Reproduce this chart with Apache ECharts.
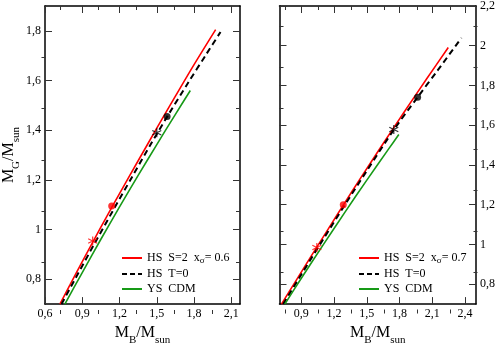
<!DOCTYPE html>
<html>
<head>
<meta charset="utf-8">
<title>M_G vs M_B</title>
<script src="https://cdn.jsdelivr.net/npm/echarts@6/dist/echarts.min.js"></script>
<style>
  html, body { margin: 0; padding: 0; background: #fff; }
  #chart { width: 498px; height: 351px; }
</style>
</head>
<body>
<div id="chart"></div>
<script>
// ---- left panel (x_sigma = 0.6) ----
const leftHsS2 = [[0.72, 0.700], [0.80, 0.776], [0.90, 0.871], [1.00, 0.964], [1.10, 1.055], [1.20, 1.145],
  [1.35, 1.277], [1.50, 1.408], [1.65, 1.537], [1.80, 1.664], [1.974, 1.805]];
const leftHsT0 = [[0.733, 0.700], [0.85, 0.808], [1.00, 0.945], [1.15, 1.079], [1.30, 1.211], [1.45, 1.342],
  [1.60, 1.468], [1.75, 1.589], [1.90, 1.707], [2.013, 1.795]];
const leftYsCdm = [[0.76, 0.700], [0.90, 0.827], [1.05, 0.961], [1.20, 1.091], [1.35, 1.218], [1.50, 1.342],
  [1.65, 1.464], [1.77, 1.560]];
const leftRedStar = [[0.984, 0.954]];
const leftRedDot = [[1.137, 1.095]];
const leftBlackStar = [[1.50, 1.39]];
const leftBlackDot = [[1.583, 1.455]];

// ---- right panel (x_sigma = 0.7) ----
const rightHsS2 = [[0.718, 0.700], [0.85, 0.817], [1.00, 0.950], [1.15, 1.081], [1.284, 1.198], [1.45, 1.340],
  [1.65, 1.508], [1.85, 1.673], [2.05, 1.835], [2.246, 1.991]];
const rightHsT0 = [[0.734, 0.700], [0.90, 0.849], [1.10, 1.026], [1.30, 1.200], [1.50, 1.371], [1.747, 1.577],
  [1.965, 1.741], [2.15, 1.877], [2.367, 2.040]];
const rightYsCdm = [[0.749, 0.700], [0.90, 0.830], [1.10, 0.998], [1.30, 1.163], [1.50, 1.324], [1.70, 1.481],
  [1.793, 1.553]];
const rightRedStar = [[1.042, 0.985]];
const rightRedDot = [[1.284, 1.200]];
const rightBlackStar = [[1.747, 1.579]];
const rightBlackDot = [[1.965, 1.741]];

// ---- ticks ----
const leftXTicks = [0.6, 0.9, 1.2, 1.5, 1.8, 2.1];
const leftXMinor = [0.75, 1.05, 1.35, 1.65, 1.95];
const leftYTicks = [0.8, 1, 1.2, 1.4, 1.6, 1.8];
const leftYMinor = [0.9, 1.1, 1.3, 1.5, 1.7];
const rightXTicks = [0.9, 1.2, 1.5, 1.8, 2.1, 2.4];
const rightXMinor = [0.75, 1.05, 1.35, 1.65, 1.95, 2.25];
const rightYTicks = [0.8, 1, 1.2, 1.4, 1.6, 1.8, 2, 2.2];
const rightYMinor = [0.9, 1.1, 1.3, 1.5, 1.7, 1.9, 2.1];

const FONT = '"Liberation Serif", "DejaVu Serif", serif';
const RED = '#ff0000';
const GREEN = '#179a17';
const STAR = 'path://M0,-5L0,5M-4.33,-2.5L4.33,2.5M-4.33,2.5L4.33,-2.5';

const comma = v => String(+Number(v).toFixed(2)).replace('.', ',');

const nameRich = {
  m: { fontSize: 16, fontFamily: FONT, color: '#000', lineHeight: 18, verticalAlign: 'top' },
  s: { fontSize: 11, fontFamily: FONT, color: '#000', lineHeight: 11, verticalAlign: 'top', padding: [10, 0, 0, 0] }
};

function makeAxis(gridIndex, position, min, max, ticks, len, opts) {
  opts = opts || {};
  const ax = {
    type: 'value', gridIndex, position, min, max,
    axisLine: { show: !!opts.line, onZero: false, lineStyle: { color: '#000', width: 1.5 } },
    axisTick: { show: true, inside: true, length: len, customValues: ticks, lineStyle: { color: '#333', width: 1 } },
    axisLabel: { show: !!opts.label, customValues: ticks, formatter: comma, color: '#000', fontFamily: FONT, fontSize: 12, margin: 4 },
    splitLine: { show: false }
  };
  if (opts.name) {
    ax.name = opts.name;
    ax.nameLocation = 'middle';
    ax.nameGap = opts.nameGap;
    ax.nameTextStyle = { fontFamily: FONT, fontSize: 16, color: '#000', rich: nameRich };
  }
  return ax;
}

const xName = '{m|M}{s|B}{m|/M}{s|sun}';
const yName = '{m|M}{s|G}{m|/M}{s|sun}';

const xAxis = [
  makeAxis(0, 'bottom', 0.6, 2.17, leftXTicks, 7, { line: true, label: true, name: xName, nameGap: 19 }),
  makeAxis(0, 'top', 0.6, 2.17, leftXTicks, 7, { line: true }),
  makeAxis(1, 'bottom', 0.6, 2.17, leftXMinor, 4),
  makeAxis(1, 'top', 0.6, 2.17, leftXMinor, 4),
  makeAxis(2, 'bottom', 0.7, 2.5, rightXTicks, 7, { line: true, label: true, name: xName, nameGap: 19 }),
  makeAxis(2, 'top', 0.7, 2.5, rightXTicks, 7, { line: true }),
  makeAxis(3, 'bottom', 0.7, 2.5, rightXMinor, 4),
  makeAxis(3, 'top', 0.7, 2.5, rightXMinor, 4)
];

const yAxis = [
  makeAxis(0, 'left', 0.7, 1.9, leftYTicks, 7, { line: true, label: true, name: yName, nameGap: 26 }),
  makeAxis(0, 'right', 0.7, 1.9, leftYTicks, 7, { line: true }),
  makeAxis(1, 'left', 0.7, 1.9, leftYMinor, 4),
  makeAxis(1, 'right', 0.7, 1.9, leftYMinor, 4),
  makeAxis(2, 'left', 0.7, 2.2, rightYTicks, 7, { line: true }),
  makeAxis(2, 'right', 0.7, 2.2, rightYTicks, 7, { line: true, label: true }),
  makeAxis(3, 'left', 0.7, 2.2, rightYMinor, 4),
  makeAxis(3, 'right', 0.7, 2.2, rightYMinor, 4)
];

const grid = [
  { left: 41.5, top: 6, width: 198.5, height: 308 },
  { left: 41.5, top: 6, width: 198.5, height: 308 },
  { left: 279.5, top: 6, width: 198, height: 307.5 },
  { left: 279.5, top: 6, width: 198, height: 307.5 }
];

function curve(name, data, axisIdx, color, dashed) {
  return {
    name, type: 'line', data, xAxisIndex: axisIdx, yAxisIndex: axisIdx,
    symbol: 'none', smooth: 0.3, z: 2,
    lineStyle: { color, width: dashed ? 2 : 1.6, type: dashed ? [6, 4] : 'solid' },
    itemStyle: { color }
  };
}

function marker(data, axisIdx, color, star) {
  return {
    type: 'scatter', data, xAxisIndex: axisIdx, yAxisIndex: axisIdx, z: 5,
    symbol: star ? STAR : 'circle', symbolSize: star ? 9 : 7,
    itemStyle: star ? { color: 'transparent', borderColor: color, borderWidth: 1.2 } : { color }
  };
}

const series = [
  curve('HS S=2 x0.6', leftHsS2, 0, RED, false),
  curve('HS T=0', leftHsT0, 0, '#000', true),
  curve('YS CDM', leftYsCdm, 0, GREEN, false),
  marker(leftRedStar, 0, RED, true),
  marker(leftRedDot, 0, RED, false),
  marker(leftBlackStar, 0, '#000', true),
  marker(leftBlackDot, 0, '#000', false),
  curve('HS S=2 x0.7', rightHsS2, 4, RED, false),
  curve('HS T=0', rightHsT0, 4, '#000', true),
  curve('YS CDM', rightYsCdm, 4, GREEN, false),
  marker(rightRedStar, 4, RED, true),
  marker(rightRedDot, 4, RED, false),
  marker(rightBlackStar, 4, '#000', true),
  marker(rightBlackDot, 4, '#000', false)
];

const legendLabels = {
  'HS S=2 x0.6': '{t|HS  S=2  x}{s|σ}{t|= 0.6}',
  'HS S=2 x0.7': '{t|HS  S=2  x}{s|σ}{t|= 0.7}',
  'HS T=0': '{t|HS  T=0}',
  'YS CDM': '{t|YS  CDM}'
};

function legendItem(name, color, dashed) {
  return {
    name,
    itemStyle: { opacity: 0 },
    lineStyle: { color, width: 2, type: dashed ? [5, 3] : 'solid' }
  };
}

function makeLegend(left, redName) {
  return {
    orient: 'vertical', left, top: 252,
    data: [legendItem(redName, RED, false), legendItem('HS T=0', '#000', true), legendItem('YS CDM', GREEN, false)],
    itemWidth: 20, itemHeight: 10, itemGap: 3, selectedMode: false, padding: 0,
    itemStyle: { opacity: 0 },
    formatter: n => legendLabels[n],
    textStyle: {
      fontFamily: FONT, fontSize: 12, color: '#000',
      rich: {
        t: { fontFamily: FONT, fontSize: 12, color: '#000', lineHeight: 12, verticalAlign: 'top' },
        s: { fontFamily: FONT, fontSize: 9, color: '#000', lineHeight: 9, verticalAlign: 'top', padding: [4, 0, 0, 0] }
      }
    }
  };
}

const chart = echarts.init(document.getElementById('chart'), null, { renderer: 'canvas' });
chart.setOption({
  animation: false,
  backgroundColor: '#fff',
  grid, xAxis, yAxis, series,
  legend: [makeLegend(121, 'HS S=2 x0.6'), makeLegend(358, 'HS S=2 x0.7')]
});
</script>
</body>
</html>
